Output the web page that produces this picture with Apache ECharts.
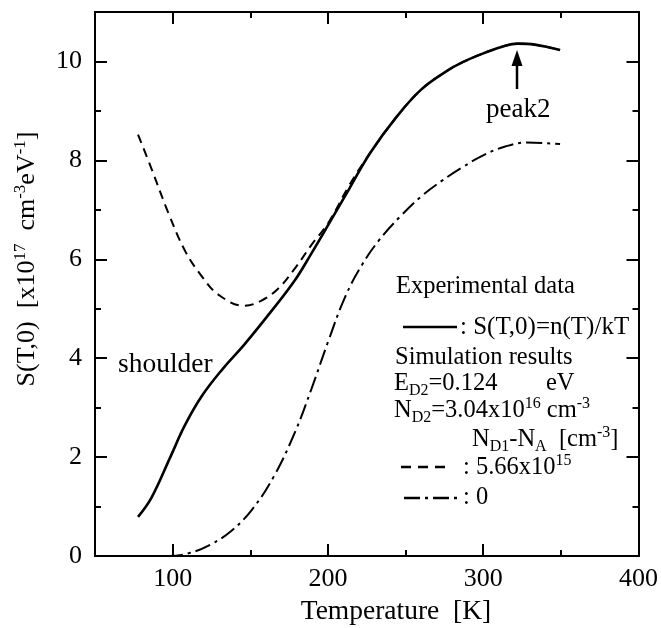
<!DOCTYPE html>
<html>
<head>
<meta charset="utf-8">
<script src="https://cdn.jsdelivr.net/npm/echarts@6/dist/echarts.min.js"></script>
<style>
html,body{margin:0;padding:0;background:#fff;}
#chart{width:661px;height:628px;}
</style>
</head>
<body>
<div id="chart"></div>
<script>
// ---- data ----
const solidT = [77.7, 86.4, 98.5, 108, 118.9, 132.4, 146, 162.3, 178.6, 189.4, 200.3, 213.8, 227.4, 243.7, 260, 276.2, 287.1, 300.6, 314.2, 322.3, 333.2, 349.5];
const solidS = [0.79, 1.18, 2.0, 2.65, 3.24, 3.79, 4.27, 4.9, 5.57, 6.12, 6.7, 7.43, 8.16, 8.86, 9.43, 9.8, 9.99, 10.17, 10.32, 10.36, 10.34, 10.23];

const dashT = [77.7, 86.4, 97.2, 108, 118.9, 129.7, 146, 156.9, 167.7, 178.6, 189.4, 200.3, 213.8, 227.4, 243.7, 260, 276.2, 287.1, 300.6, 314.2, 322.3, 333.2, 349.5];
const dashS = [8.52, 7.83, 6.94, 6.17, 5.65, 5.28, 5.06, 5.16, 5.40, 5.81, 6.29, 6.74, 7.5, 8.16, 8.86, 9.43, 9.8, 9.99, 10.17, 10.32, 10.36, 10.34, 10.23];

const dashDotT = [77.7, 97.2, 110.7, 124.3, 137.9, 151.4, 165, 178.6, 189.4, 200.3, 211.1, 222, 232.8, 246.4, 260, 273.5, 287.1, 300.6, 314.2, 327.8, 349.5];
const dashDotS = [0, 0, 0.06, 0.23, 0.51, 0.95, 1.6, 2.49, 3.38, 4.35, 5.24, 5.89, 6.38, 6.86, 7.27, 7.59, 7.87, 8.11, 8.28, 8.36, 8.33];

const xMajorTicks = [100, 200, 300, 400];
const xMinorTicks = [150, 250, 350];
const yMajorTicks = [0, 2, 4, 6, 8, 10];
const yMinorTicks = [1, 3, 5, 7, 9];

const FONT = '"Liberation Serif", "Times New Roman", serif';
const zip = (a, b) => a.map((v, i) => [v, b[i]]);

const chart = echarts.init(document.getElementById('chart'), null, {renderer: 'canvas'});

function xAxisDef(pos, ticks, len, labels) {
  return {
    type: 'value', position: pos, min: 50, max: 400,
    axisLine: {show: true, onZero: false, lineStyle: {color: '#000', width: 2}},
    axisTick: {show: true, inside: true, length: len, customValues: ticks, lineStyle: {color: '#000', width: 2}},
    axisLabel: labels ? {show: true, customValues: ticks, color: '#000', fontFamily: FONT, fontSize: 26, margin: 10} : {show: false},
    splitLine: {show: false}
  };
}
function yAxisDef(pos, ticks, len, labels) {
  return {
    type: 'value', position: pos, min: 0, max: 11,
    axisLine: {show: true, onZero: false, lineStyle: {color: '#000', width: 2}},
    axisTick: {show: true, inside: true, length: len, customValues: ticks, lineStyle: {color: '#000', width: 2}},
    axisLabel: labels ? {show: true, customValues: ticks, color: '#000', fontFamily: FONT, fontSize: 26, margin: 13} : {show: false},
    splitLine: {show: false}
  };
}

const legendRich = {
  sub: {fontSize: 16, fontFamily: FONT, fill: '#000', lineHeight: 14, verticalAlign: 'bottom'},
  sup: {fontSize: 16, fontFamily: FONT, fill: '#000', lineHeight: 14, verticalAlign: 'top'}
};
function txt(x, y, text, size, extra) {
  return Object.assign({
    type: 'text', x: x, y: y, silent: true,
    style: {text: text, fontFamily: FONT, fontSize: size, fill: '#000', lineHeight: 30,
            align: 'left', verticalAlign: 'middle', rich: legendRich}
  }, extra || {});
}
function seg(x1, x2, y, dash) {
  return {type: 'line', silent: true, shape: {x1: x1, y1: y, x2: x2, y2: y},
          style: {stroke: '#000', lineWidth: 2.5, lineDash: dash || null}};
}

const option = {
  backgroundColor: '#fff',
  animation: false,
  grid: {left: 95, right: 22, top: 12, bottom: 72},
  xAxis: [
    xAxisDef('bottom', xMajorTicks, 12, true),
    xAxisDef('bottom', xMinorTicks, 6, false),
    xAxisDef('top', xMajorTicks, 12, false),
    xAxisDef('top', xMinorTicks, 6, false)
  ],
  yAxis: [
    yAxisDef('left', yMajorTicks, 12, true),
    yAxisDef('left', yMinorTicks, 6, false),
    yAxisDef('right', yMajorTicks, 12, false),
    yAxisDef('right', yMinorTicks, 6, false)
  ],
  series: [
    {type: 'line', name: 'exp', data: zip(solidT, solidS), smooth: 0.4, showSymbol: false,
     lineStyle: {color: '#000', width: 2.6}},
    {type: 'line', name: 'sim1', data: zip(dashT, dashS), smooth: 0.4, showSymbol: false,
     lineStyle: {color: '#000', width: 2, type: [9, 6]}},
    {type: 'line', name: 'sim0', data: zip(dashDotT, dashDotS), smooth: 0.4, showSymbol: false,
     lineStyle: {color: '#000', width: 2, type: [16, 5, 3, 5]}}
  ],
  graphic: [
    // axis titles
    {type: 'text', x: 396, y: 612, silent: true,
     style: {text: 'Temperature  [K]', fontFamily: FONT, fontSize: 27.5, fill: '#000', align: 'center', verticalAlign: 'middle'}},
    {type: 'text', x: 27, y: 259, rotation: Math.PI / 2, silent: true,
     style: {text: 'S(T,0)  [x10{sup|17}  cm{sup|-3}eV{sup|-1}]', fontFamily: FONT, fontSize: 26, fill: '#000', lineHeight: 30,
             align: 'center', verticalAlign: 'middle',
             rich: {sup: {fontSize: 17, fontFamily: FONT, fill: '#000', lineHeight: 14, verticalAlign: 'top'}}}},
    // annotations
    txt(486, 110, 'peak2', 27),
    txt(118, 365, 'shoulder', 27.5),
    {type: 'line', silent: true, shape: {x1: 517, y1: 89, x2: 517, y2: 62}, style: {stroke: '#000', lineWidth: 2.5}},
    {type: 'polygon', silent: true, shape: {points: [[511.5, 66], [522.5, 66], [517, 50]]}, style: {fill: '#000'}},
    // legend block
    txt(396, 287, 'Experimental data', 24.5),
    seg(403, 457, 327),
    txt(460, 327, ': S(T,0)=n(T)/kT', 25),
    txt(395, 358, 'Simulation results', 24.5),
    txt(394, 384, 'E{sub|D2}=0.124', 24.5),
    txt(546, 384, 'eV', 24.5),
    txt(394, 411, 'N{sub|D2}=3.04x10{sup|16} cm{sup|-3}', 24.5),
    txt(472, 440, 'N{sub|D1}-N{sub|A}  [cm{sup|-3}]', 24.5),
    seg(401, 452, 467, [10, 7]),
    txt(463, 468, ': 5.66x10{sup|15}', 24.5),
    seg(404, 460, 498, [16, 5, 3, 5]),
    txt(463, 498, ': 0', 24.5)
  ]
};
chart.setOption(option);
</script>
</body>
</html>
